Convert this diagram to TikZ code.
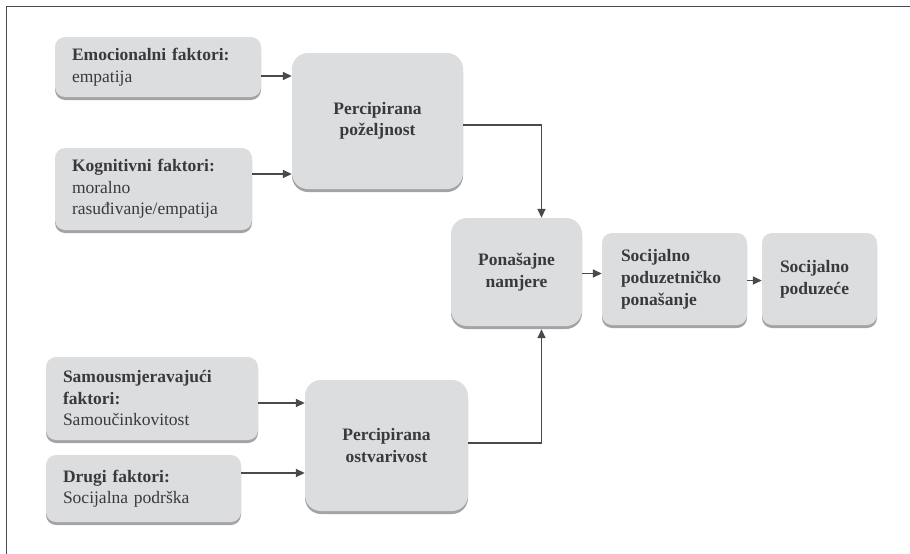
\documentclass[tikz,border=0pt]{standalone}
\usepackage{fontspec}
\setmainfont{Liberation Serif}
\usetikzlibrary{arrows.meta,shadows,calc}
\definecolor{boxfill}{HTML}{DCDDDF}
\definecolor{boxshadow}{HTML}{A4A4A6}
\definecolor{txt}{HTML}{3A3A3C}
\definecolor{linec}{HTML}{4A4A4C}
\tikzset{
  box/.style={draw=none, fill=boxfill, rounded corners=10pt, inner xsep=17pt, inner ysep=4pt,
    text=txt, font=\fontsize{17.5}{21.5}\selectfont,
    drop shadow={shadow xshift=0pt, shadow yshift=-3pt, fill=boxshadow, opacity=1}},
  bigbox/.style={box, inner xsep=6pt, rounded corners=16pt, align=center, font=\fontsize{17.5}{21.5}\selectfont\bfseries},
  arr/.style={draw=linec, line width=1.6pt, -{Triangle[length=9pt,width=8pt]}},
  frame/.style={draw=linec, line width=0.9pt}
}
\begin{document}
\begin{tikzpicture}[x=1pt,y=-1pt]
\useasboundingbox (0,0) rectangle (910,554);
\coordinate (f1) at (6,554);
\coordinate (f2) at (6,6);
\coordinate (f3) at (910,6);
\draw[frame] (f1) -- (f2) -- (f3);

\node[box, minimum width=206pt, minimum height=60pt, text width=172pt, align=left] (emo) at (158,67)
  {\textbf{Emocionalni faktori:}\\empatija};
\node[box, minimum width=197pt, minimum height=82pt, text width=163pt, align=left] (kog) at (153.5,189)
  {\textbf{Kognitivni faktori:}\\moralno\\rasuđivanje/empatija};
\node[bigbox, minimum width=171pt, minimum height=136pt] (poz) at (377.5,121)
  {Percipirana\\poželjnost};
\node[bigbox, minimum width=131pt, minimum height=108pt] (namj) at (516.5,272)
  {Ponašajne\\namjere};
\node[box, minimum width=145pt, minimum height=92pt, inner xsep=19pt, text width=107pt, align=left,
  font=\fontsize{17.5}{22}\selectfont\bfseries] (spon) at (674.5,279)
  {Socijalno\\poduzetničko\\ponašanje};
\node[box, minimum width=115pt, minimum height=92pt, inner xsep=18pt, text width=79pt, align=left,
  font=\fontsize{17.5}{22}\selectfont\bfseries] (spod) at (819.5,279)
  {Socijalno\\poduzeće};
\node[box, minimum width=212pt, minimum height=83pt, text width=178pt, align=left] (samo) at (152,398.5)
  {\textbf{Samousmjeravajući}\\\textbf{faktori:}\\Samoučinkovitost};
\node[box, minimum width=195pt, minimum height=67pt, text width=161pt, align=left] (drugi) at (143.5,488.5)
  {\textbf{Drugi faktori:}\\Socijalna podrška};
\node[bigbox, minimum width=163pt, minimum height=131pt] (ostv) at (386.5,445.5)
  {Percipirana\\ostvarivost};

\coordinate (jx) at (541.5,0);
\draw[arr] ([yshift=-9pt]emo.east) -- ([yshift=-9pt]emo.east -| poz.west);
\draw[arr] ([yshift=15pt]kog.east) -- ([yshift=15pt]kog.east -| poz.west);
\draw[arr] ([yshift=-4.5pt]samo.east) -- ([yshift=-4.5pt]samo.east -| ostv.west);
\draw[arr] ([yshift=15.5pt]drugi.east) -- ([yshift=15.5pt]drugi.east -| ostv.west);
\draw[arr] ([yshift=-4pt]poz.east) -| (jx |- namj.north);
\draw[arr] ([yshift=2.5pt]ostv.east) -| ([yshift=-3pt]jx |- namj.south);
\draw[arr] ([yshift=-1.5pt]namj.east) -- ([yshift=-1.5pt]namj.east -| spon.west);
\draw[arr] ([yshift=-1.5pt]spon.east) -- ([yshift=-1.5pt]spon.east -| spod.west);
\end{tikzpicture}
\end{document}
